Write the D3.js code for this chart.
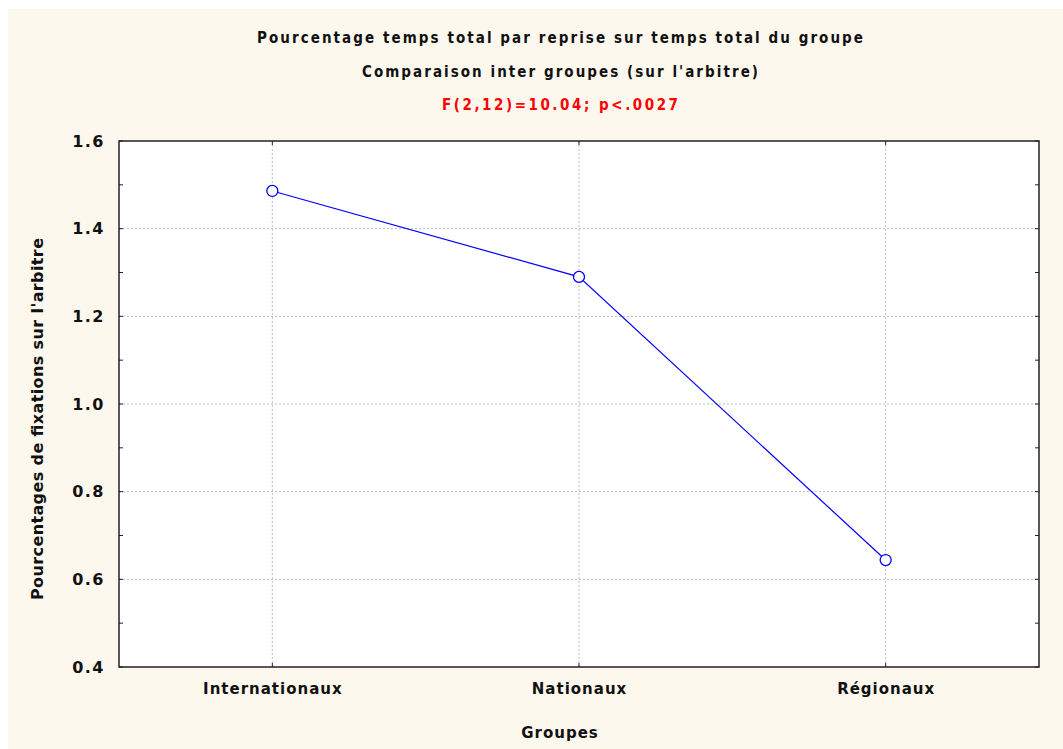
<!DOCTYPE html>
<html>
<head>
<meta charset="utf-8">
<script src="https://cdn.jsdelivr.net/npm/d3@7"></script>
<style>
  body { margin: 0; background: #fff; }
  text { font-family: "DejaVu Sans", Verdana, sans-serif; font-weight: bold; fill: #111; }
  .title { font-family: "DejaVu Sans Condensed", "DejaVu Sans", sans-serif; font-size: 15px; }
  .grid line { stroke: #bdbdbd; stroke-dasharray: 2,2; }
</style>
</head>
<body>
<svg width="1063" height="749"></svg>
<script>
// data
let groupes = ["Internationaux", "Nationaux", "Régionaux"];
let valeurs = [1.486, 1.290, 0.644];
let yTicks = [0.4, 0.6, 0.8, 1.0, 1.2, 1.4, 1.6];
let titres = ["Pourcentage temps total par reprise sur temps total du groupe",
              "Comparaison inter groupes (sur l'arbitre)"];
let stat = "F(2,12)=10.04; p<.0027";

let svg = d3.select("svg"),
    width = +svg.attr("width"),
    height = +svg.attr("height");

let margin = {top: 141, right: 24, bottom: 82, left: 119};
let w = width - margin.left - margin.right,
    h = height - margin.top - margin.bottom;

// cream page background
svg.append("rect")
    .attr("x", 8).attr("y", 9)
    .attr("width", width - 8).attr("height", height - 9)
    .attr("fill", "#fdf8ee");

let x = d3.scalePoint()
    .domain(groupes)
    .range([0, w])
    .padding(0.5);

let y = d3.scaleLinear()
    .domain([0.4, 1.6])
    .range([h, 0]);

let g = svg.append("g")
    .attr("transform", "translate(" + margin.left + "," + margin.top + ")");

g.append("rect")
    .attr("width", w).attr("height", h)
    .attr("fill", "#fff");

// grid
let grid = g.append("g").attr("class", "grid");
grid.selectAll(".gy")
    .data(yTicks.slice(1, -1))
  .enter().append("line")
    .attr("x1", 0).attr("x2", w)
    .attr("y1", d => y(d)).attr("y2", d => y(d));
grid.selectAll(".gx")
    .data(groupes)
  .enter().append("line")
    .attr("x1", d => x(d)).attr("x2", d => x(d))
    .attr("y1", 0).attr("y2", h);

// minor ticks every 0.1, inward, on both sides
let minor = d3.range(0.5, 1.6, 0.2);
let allY = yTicks.concat(minor);

let yLeft = d3.axisLeft(y).tickValues(yTicks).tickFormat(d3.format(".1f")).tickSize(0).tickPadding(14);
let yl = g.append("g").call(yLeft);
yl.select(".domain").remove();
yl.selectAll("text").style("font-size", "16px").style("letter-spacing", "1.5px");

g.selectAll(".tl").data(allY).enter().append("line")
    .attr("x1", 0).attr("x2", 4)
    .attr("y1", d => y(d)).attr("y2", d => y(d))
    .attr("stroke", "#222");
g.selectAll(".tr").data(allY).enter().append("line")
    .attr("x1", w - 4).attr("x2", w)
    .attr("y1", d => y(d)).attr("y2", d => y(d))
    .attr("stroke", "#222");
g.selectAll(".tb").data(groupes).enter().append("line")
    .attr("x1", d => x(d)).attr("x2", d => x(d))
    .attr("y1", h - 4).attr("y2", h)
    .attr("stroke", "#222");
g.selectAll(".tt").data(groupes).enter().append("line")
    .attr("x1", d => x(d)).attr("x2", d => x(d))
    .attr("y1", 0).attr("y2", 4)
    .attr("stroke", "#222");

let xBottom = d3.axisBottom(x).tickSize(0).tickPadding(16);
let xb = g.append("g").attr("transform", "translate(0," + h + ")").call(xBottom);
xb.select(".domain").remove();
xb.selectAll("text").style("font-size", "15px").style("letter-spacing", "1px");

// frame
g.append("rect")
    .attr("width", w).attr("height", h)
    .attr("fill", "none")
    .attr("stroke", "#222").attr("stroke-width", 1.5);

// line + markers
let line = d3.line()
    .x((d, i) => x(groupes[i]))
    .y(d => y(d));

g.append("path")
    .datum(valeurs)
    .attr("d", line)
    .attr("fill", "none")
    .attr("stroke", "#0000ff")
    .attr("stroke-width", 1.2);

g.selectAll(".pt")
    .data(valeurs)
  .enter().append("circle")
    .attr("cx", (d, i) => x(groupes[i]))
    .attr("cy", d => y(d))
    .attr("r", 5.5)
    .attr("fill", "#fff")
    .attr("stroke", "#0000ff")
    .attr("stroke-width", 1.3);

// titles
let cx = margin.left + w / 2 - 19;
svg.append("text").attr("class", "title")
    .attr("x", cx).attr("y", 43).attr("text-anchor", "middle")
    .attr("textLength", 606).attr("lengthAdjust", "spacing")
    .text(titres[0]);
svg.append("text").attr("class", "title")
    .attr("x", cx).attr("y", 77).attr("text-anchor", "middle")
    .attr("textLength", 396).attr("lengthAdjust", "spacing")
    .text(titres[1]);
svg.append("text").attr("class", "title")
    .attr("x", cx).attr("y", 110).attr("text-anchor", "middle")
    .attr("textLength", 236).attr("lengthAdjust", "spacing")
    .style("fill", "#ff0000")
    .text(stat);

// axis titles
svg.append("text")
    .attr("x", margin.left + w / 2 - 19).attr("y", 738)
    .attr("text-anchor", "middle")
    .style("font-size", "15px")
    .style("letter-spacing", "1px")
    .text("Groupes");

svg.append("text")
    .attr("transform", "translate(43," + (margin.top + h / 2 + 15) + ") rotate(-90)")
    .attr("text-anchor", "middle")
    .attr("textLength", 362).attr("lengthAdjust", "spacing")
    .style("font-size", "16px")
    .style("font-weight", "600")
    .text("Pourcentages de fixations sur l'arbitre");
</script>
</body>
</html>
